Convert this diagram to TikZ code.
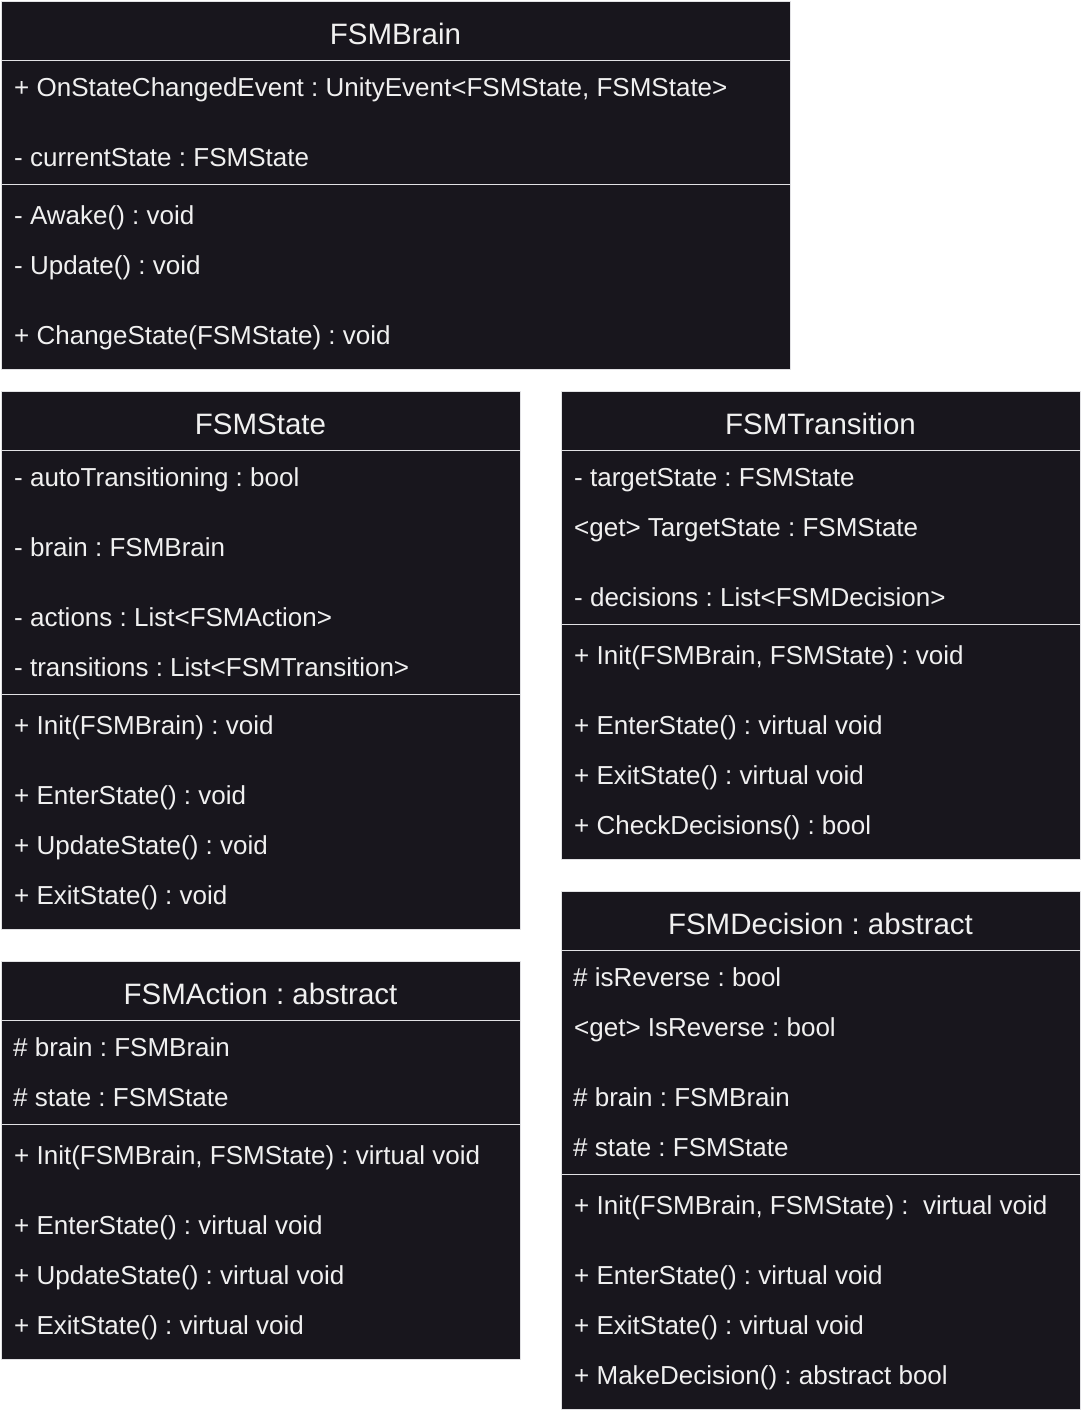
\documentclass[tikz,border=0pt]{standalone}
\usepackage{fontspec}
\setmainfont{Liberation Sans}
\frenchspacing
\definecolor{boxbg}{RGB}{24,22,29}
\definecolor{boxline}{RGB}{225,225,228}
\definecolor{boxtext}{RGB}{240,240,240}
\begin{document}
\begin{tikzpicture}[x=1pt,y=-1pt,
  classbox/.style={fill=boxbg,draw=boxline,line width=0.8pt},
  divider/.style={draw=boxline,line width=0.8pt},
  ctitle/.style={anchor=base,inner sep=0pt,text=boxtext,font=\fontsize{29.5}{34}\selectfont},
  member/.style={anchor=base west,inner sep=0pt,text=boxtext,font=\fontsize{26}{30}\selectfont}]
\useasboundingbox[fill=white] (0,0) rectangle (1082,1411);

% ---- FSMBrain ----
\draw[classbox] (1,1) rectangle (790,369);
\draw[divider] (1,60.5) -- (790,60.5);
\draw[divider] (1,184) -- (790,184);
\node[ctitle] (brainT) at (395.5,44.5) {FSMBrain};
\node[member] (brainA1) at (14,96) {+ OnStateChangedEvent : UnityEvent<FSMState, FSMState>};
\node[member] (brainA2) at (14,166) {- currentState : FSMState};
\node[member] (brainM1) at (14,224) {- Awake() : void};
\node[member] (brainM2) at (14,274) {- Update() : void};
\node[member] (brainM3) at (14,344) {+ ChangeState(FSMState) : void};

% ---- FSMState ----
\draw[classbox] (1,391) rectangle (520,929);
\draw[divider] (1,450.5) -- (520,450.5);
\draw[divider] (1,694.5) -- (520,694.5);
\node[ctitle] (stateT) at (260.5,434.5) {FSMState};
\node[member] (stateA1) at (14,486) {- autoTransitioning : bool};
\node[member] (stateA2) at (14,556) {- brain : FSMBrain};
\node[member] (stateA3) at (14,626) {- actions : List<FSMAction>};
\node[member] (stateA4) at (14,676) {- transitions : List<FSMTransition>};
\node[member] (stateM1) at (14,734) {+ Init(FSMBrain) : void};
\node[member] (stateM2) at (14,804) {+ EnterState() : void};
\node[member] (stateM3) at (14,854) {+ UpdateState() : void};
\node[member] (stateM4) at (14,904) {+ ExitState() : void};

% ---- FSMTransition ----
\draw[classbox] (561,391) rectangle (1080,859);
\draw[divider] (561,450.5) -- (1080,450.5);
\draw[divider] (561,624) -- (1080,624);
\node[ctitle] (transT) at (820.5,434.5) {FSMTransition};
\node[member] (transA1) at (574,486) {- targetState : FSMState};
\node[member] (transA2) at (574,536) {<get> TargetState : FSMState};
\node[member] (transA3) at (574,606) {- decisions : List<FSMDecision>};
\node[member] (transM1) at (574,664) {+ Init(FSMBrain, FSMState) : void};
\node[member] (transM2) at (574,734) {+ EnterState() : virtual void};
\node[member] (transM3) at (574,784) {+ ExitState() : virtual void};
\node[member] (transM4) at (574,834) {+ CheckDecisions() : bool};

% ---- FSMAction ----
\draw[classbox] (1,961) rectangle (520,1359);
\draw[divider] (1,1020.5) -- (520,1020.5);
\draw[divider] (1,1124) -- (520,1124);
\node[ctitle] (actT) at (260.5,1004.5) {FSMAction : abstract};
\node[member] (actA1) at (13,1056) {\# brain : FSMBrain};
\node[member] (actA2) at (13,1106) {\# state : FSMState};
\node[member] (actM1) at (14,1164) {+ Init(FSMBrain, FSMState) : virtual void};
\node[member] (actM2) at (14,1234) {+ EnterState() : virtual void};
\node[member] (actM3) at (14,1284) {+ UpdateState() : virtual void};
\node[member] (actM4) at (14,1334) {+ ExitState() : virtual void};

% ---- FSMDecision ----
\draw[classbox] (561,891) rectangle (1080,1409);
\draw[divider] (561,950.5) -- (1080,950.5);
\draw[divider] (561,1174) -- (1080,1174);
\node[ctitle] (decT) at (820.5,934.5) {FSMDecision : abstract};
\node[member] (decA1) at (573,986) {\# isReverse : bool};
\node[member] (decA2) at (574,1036) {<get> IsReverse : bool};
\node[member] (decA3) at (573,1106) {\# brain : FSMBrain};
\node[member] (decA4) at (573,1156) {\# state : FSMState};
\node[member] (decM1) at (574,1214) {+ Init(FSMBrain, FSMState) : \ virtual void};
\node[member] (decM2) at (574,1284) {+ EnterState() : virtual void};
\node[member] (decM3) at (574,1334) {+ ExitState() : virtual void};
\node[member] (decM4) at (574,1384) {+ MakeDecision() : abstract bool};
\end{tikzpicture}
\end{document}
